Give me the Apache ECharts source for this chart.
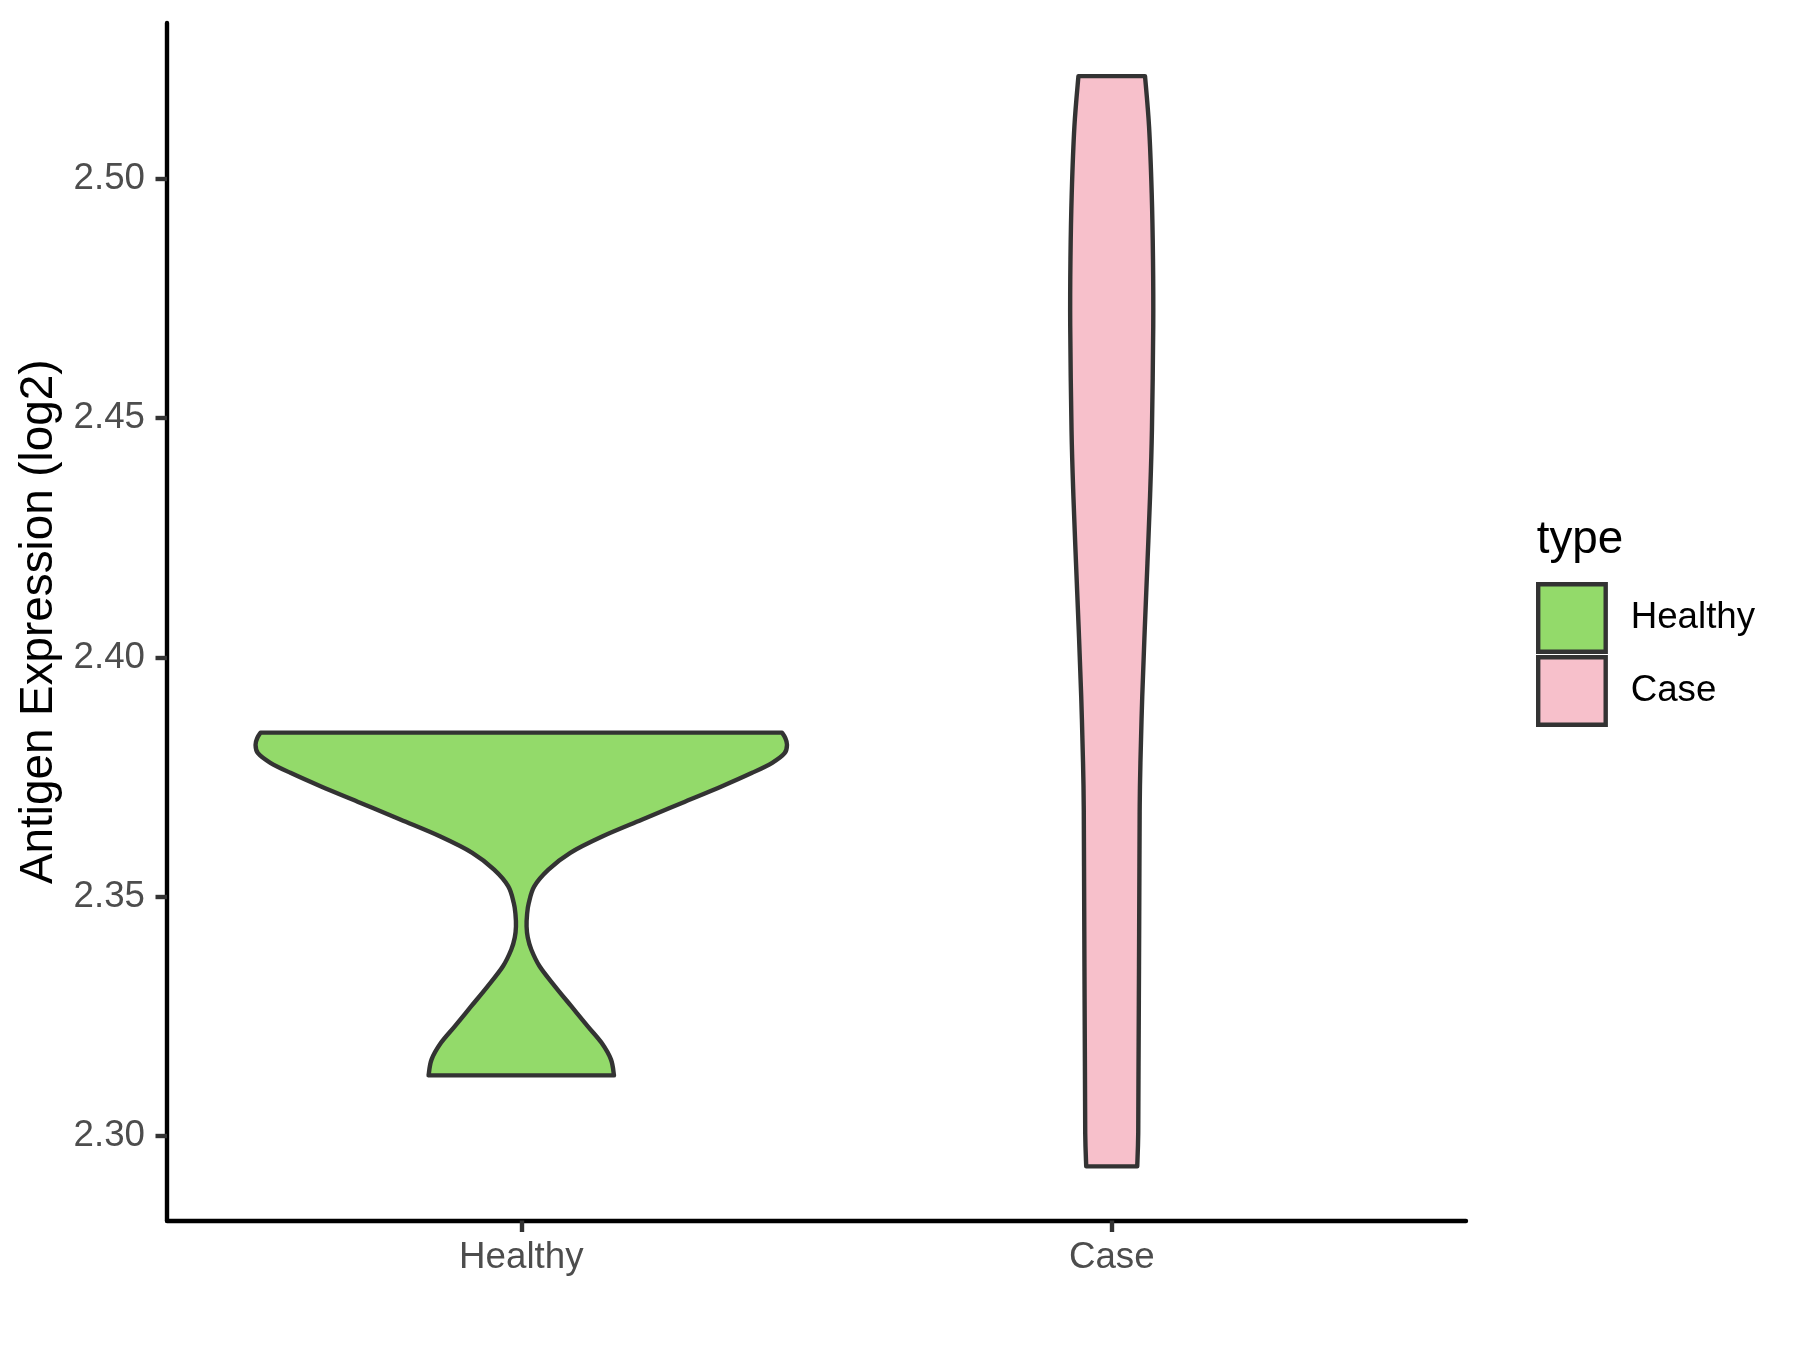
<!DOCTYPE html>
<html><head><meta charset="utf-8">
<script src="https://cdn.jsdelivr.net/npm/echarts@6/dist/echarts.min.js"></script>
<style>html,body{margin:0;padding:0;background:#fff}#chart{width:1800px;height:1350px}</style>
</head><body><div id="chart"></div>
<script>
// ---- data ----
const categories = ['Healthy', 'Case'];
const categoryPositions = [1, 2];
const yTicks = [2.30, 2.35, 2.40, 2.45, 2.50];
const yMin = 2.2824;
const yMax = 2.5325;

// violin outlines: y value and half-width (in category units), bottom to top
const healthyY = [2.3127, 2.3160, 2.3195, 2.3229, 2.3271, 2.3313, 2.3355, 2.3390, 2.3415, 2.3438, 2.3463, 2.3487, 2.3522, 2.3557, 2.3592, 2.3626, 2.3661, 2.3696, 2.3731, 2.3759, 2.3780, 2.3800, 2.3818, 2.3832, 2.3843];
const healthyHalfWidth = [0.157, 0.152, 0.136, 0.113, 0.085, 0.057, 0.031, 0.0169, 0.0110, 0.0090, 0.0098, 0.0127, 0.022, 0.046, 0.083, 0.137, 0.204, 0.272, 0.340, 0.391, 0.425, 0.446, 0.450, 0.447, 0.4415];
const caseY = [2.2937, 2.3007, 2.3146, 2.3355, 2.3564, 2.3689, 2.3780, 2.3919, 2.4058, 2.4197, 2.4336, 2.4476, 2.4692, 2.4831, 2.4970, 2.5109, 2.5214];
const caseHalfWidth = [0.0432, 0.0449, 0.0454, 0.0462, 0.0469, 0.0474, 0.0486, 0.0517, 0.0559, 0.0605, 0.0649, 0.0681, 0.0703, 0.0699, 0.0677, 0.0632, 0.0564];

const fillColors = ['#93DA6A', '#F7C0CB'];
const outlineColor = '#333333';
const FONT = '"Liberation Sans", Arial, sans-serif';

function smoothSide(pts) {
  let d = '';
  for (let i = 0; i < pts.length - 1; i++) {
    const p0 = pts[i - 1] || pts[i], p1 = pts[i], p2 = pts[i + 1], p3 = pts[i + 2] || pts[i + 1];
    const c1 = [p1[0] + (p2[0] - p0[0]) / 6, p1[1] + (p2[1] - p0[1]) / 6];
    const c2 = [p2[0] - (p3[0] - p1[0]) / 6, p2[1] - (p3[1] - p1[1]) / 6];
    d += ' C ' + c1[0] + ' ' + c1[1] + ' ' + c2[0] + ' ' + c2[1] + ' ' + p2[0] + ' ' + p2[1];
  }
  return d;
}

function makeRender(ys, hws, xPos, fill) {
  return function (params, api) {
    const right = ys.map((y, i) => api.coord([xPos + hws[i], y]));
    const left = ys.map((y, i) => api.coord([xPos - hws[i], y])).reverse();
    const d = 'M ' + right[0][0] + ' ' + right[0][1] + smoothSide(right) +
      ' L ' + left[0][0] + ' ' + left[0][1] + smoothSide(left) + ' Z';
    return {
      type: 'path',
      shape: { pathData: d },
      style: { fill: fill, stroke: outlineColor, lineWidth: 4.4, lineJoin: 'round' }
    };
  };
}

const groups = [
  { y: healthyY, hw: healthyHalfWidth },
  { y: caseY, hw: caseHalfWidth }
];

const chart = echarts.init(document.getElementById('chart'), null, { renderer: 'canvas' });
chart.setOption({
  animation: false,
  backgroundColor: '#ffffff',
  grid: { left: 167, right: 334, top: 23, bottom: 129.5 },
  xAxis: {
    type: 'value', min: 0.4, max: 2.6,
    axisLine: { show: true, onZero: false, lineStyle: { color: '#000000', width: 4.4 } },
    axisTick: { show: true, length: 11.5, customValues: categoryPositions, lineStyle: { color: outlineColor, width: 4.4 } },
    axisLabel: {
      customValues: categoryPositions, margin: 18.5,
      formatter: v => categories[categoryPositions.indexOf(Math.round(v))] || '',
      fontSize: 36.7, color: '#4D4D4D', fontFamily: FONT
    },
    splitLine: { show: false }
  },
  yAxis: {
    type: 'value', min: yMin, max: yMax,
    name: 'Antigen Expression (log2)', nameLocation: 'middle', nameGap: 102,
    nameTextStyle: { fontSize: 45.8, color: '#000000', fontFamily: FONT },
    axisLine: { show: true, onZero: false, lineStyle: { color: '#000000', width: 4.4 } },
    axisTick: { show: true, length: 11.5, customValues: yTicks, lineStyle: { color: outlineColor, width: 4.4 } },
    axisLabel: {
      customValues: yTicks, margin: 22,
      formatter: v => Number(v).toFixed(2),
      fontSize: 36.7, color: '#4D4D4D', fontFamily: FONT
    },
    splitLine: { show: false }
  },
  legend: {
    orient: 'vertical', left: 1531, top: 577,
    itemWidth: 67.5, itemHeight: 67.5, itemGap: 1.2,
    icon: 'rect', selectedMode: false,
    data: categories.map((c, i) => ({
      name: c,
      itemStyle: { color: fillColors[i], borderColor: outlineColor, borderWidth: 4.4 }
    })),
    textStyle: { fontSize: 36.7, color: '#000000', fontFamily: FONT, padding: [0, 0, 0, 20] }
  },
  graphic: [{
    type: 'text', left: 1536.7, top: 517,
    style: { text: 'type', fontSize: 45.8, fill: '#000000', fontFamily: FONT }
  }],
  series: categories.map((c, i) => ({
    type: 'custom',
    name: c,
    itemStyle: { color: fillColors[i], borderColor: outlineColor, borderWidth: 4.4 },
    renderItem: makeRender(groups[i].y, groups[i].hw, categoryPositions[i], fillColors[i]),
    data: [[categoryPositions[i], groups[i].y[0]]]
  }))
});
</script></body></html>
